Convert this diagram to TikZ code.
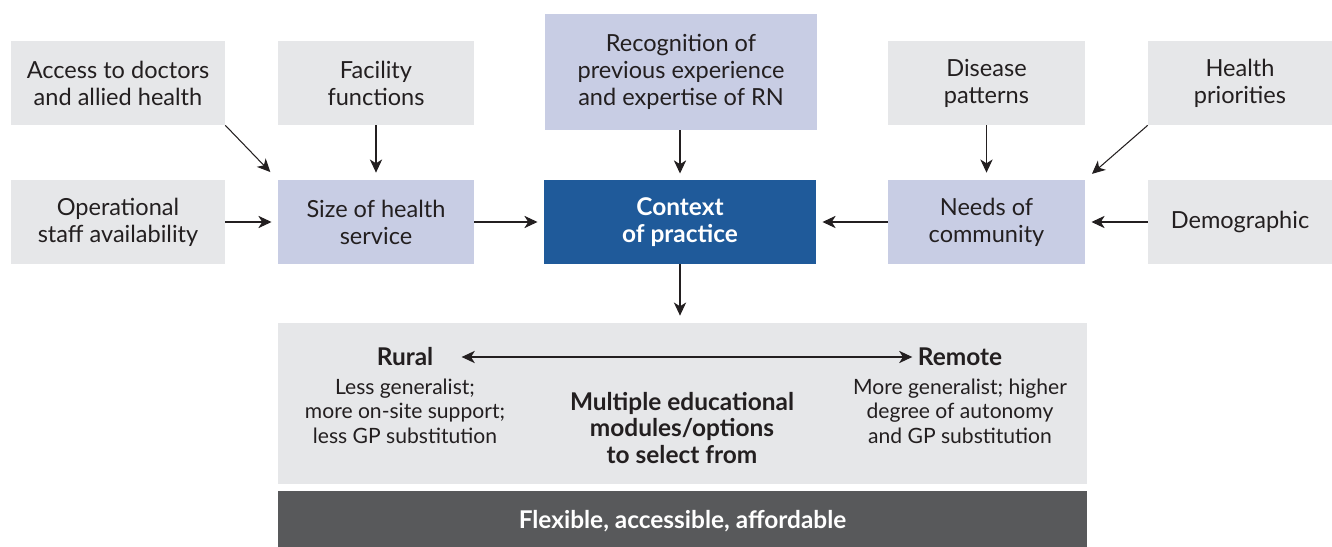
\documentclass[tikz,border=0pt]{standalone}
\usepackage{fontspec}
\setmainfont{Lato}
\usetikzlibrary{arrows.meta}
\definecolor{lgray}{HTML}{E6E7E9}
\definecolor{lav}{HTML}{C8CDE4}
\definecolor{dblue}{HTML}{1F5A9A}
\definecolor{dgray}{HTML}{58595B}
\definecolor{ink}{HTML}{231F20}
\begin{document}
\begin{tikzpicture}[x=0.02cm,y=-0.02cm,
  box/.style={rectangle, inner sep=0pt, align=center, text=ink,
    font=\fontsize{13.4}{15.4}\selectfont},
  gbox/.style={box, fill=lgray},
  lbox/.style={box, fill=lav},
  bfont/.style={font=\fontsize{13.9}{15.2}\selectfont\bfseries},
  arr/.style={draw=ink, line width=0.6pt, -{Stealth[length=7.5pt,width=7pt,inset=2.2pt]}},
  darr/.style={draw=ink, line width=0.6pt, {Stealth[length=7.5pt,width=7pt,inset=2.2pt]}-{Stealth[length=7.5pt,width=7pt,inset=2.2pt]}},
  txt/.style={inner sep=0pt, align=center, text=ink, font=\fontsize{12}{13.9}\selectfont},
]
\useasboundingbox (0,0) rectangle (1332,547);
% top row
\node[gbox, minimum width=4.28cm, minimum height=1.68cm] (access) at (118,83) {Access to doctors\\and allied health};
\node[gbox, minimum width=3.92cm, minimum height=1.68cm] (facility) at (376,83) {Facility\\functions};
\node[lbox, minimum width=5.44cm, minimum height=2.32cm] (recog) at (681,72) {Recognition of\\previous experience\\and expertise of RN};
\node[gbox, minimum width=3.94cm, minimum height=1.68cm] (disease) at (986.5,83) {Disease\\patterns};
\node[gbox, minimum width=3.68cm, minimum height=1.68cm] (health) at (1240,83) {Health\\priorities};
% middle row
\node[gbox, minimum width=4.28cm, minimum height=1.68cm] (oper) at (118,222) {Operational\\staff availability};
\node[lbox, minimum width=3.92cm, minimum height=1.68cm] (size) at (376,222) {Size of health\\service};
\node[box, bfont, fill=dblue, text=white, minimum width=5.44cm, minimum height=1.68cm] (context) at (680,222) {Context\\of practice};
\node[lbox, minimum width=3.94cm, minimum height=1.68cm] (needs) at (986.5,222) {Needs of\\community};
\node[gbox, minimum width=3.68cm, minimum height=1.68cm] (demog) at (1240,222) {Demographic};
% bottom
\node[gbox, minimum width=16.18cm, minimum height=3.22cm] (big) at (682.5,403.5) {};
\node[box, bfont, fill=dgray, text=white, minimum width=16.18cm, minimum height=1.12cm, text depth=0pt] (bar) at (682.5,519) {\raisebox{-1pt}{Flexible, accessible, affordable}};
\node[txt, bfont] (rural) at (405,357) {Rural};
\node[txt] (ruraldesc) at (405,411) {Less generalist;\\more on-site support;\\less GP substitution};
\node[txt, bfont] (remote) at (960,357) {Remote};
\node[txt] (remotedesc) at (960,411) {More generalist; higher\\degree of autonomy\\and GP substitution};
\node[txt, bfont, font=\fontsize{13.9}{15.0}\selectfont\bfseries] (multi) at (682,428) {Multiple educational\\modules/options\\to select from};
% connectors
\draw[arr, shorten >=6pt] (access.south east) -- (size.north west);
\draw[arr, shorten >=4pt] (facility) -- (size);
\draw[arr, shorten >=3.5pt] (oper) -- (size);
\draw[arr, shorten >=3.5pt] (size) -- (context);
\draw[arr, shorten >=3.5pt] (recog.south -| context.north) -- (context.north);
\draw[arr, shorten >=3.5pt] (needs) -- (context);
\draw[arr, shorten >=4pt] (disease) -- (needs);
\draw[arr, shorten >=5pt] (health.south west) -- (needs.north east);
\draw[arr, shorten >=3.5pt] (demog) -- (needs);
\draw[arr, shorten >=4pt] (context.south) -- (context.south |- big.north);
\draw[darr, shorten <=16pt, shorten >=3pt] (rural.east) -- (remote.west);
\end{tikzpicture}
\end{document}
